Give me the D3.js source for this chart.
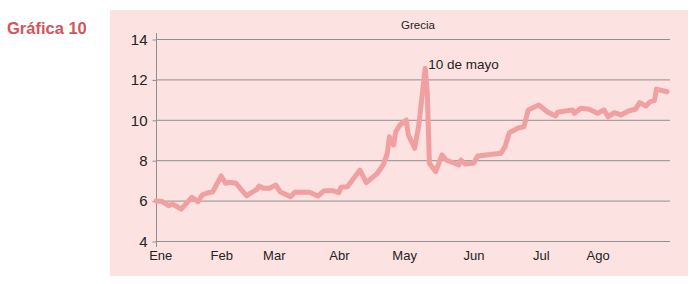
<!DOCTYPE html>
<html>
<head>
<meta charset="utf-8">
<script src="https://cdn.jsdelivr.net/npm/d3@7"></script>
<style>
  html, body { margin: 0; padding: 0; background: #ffffff; }
  svg { display: block; font-family: "Liberation Sans", Arial, Helvetica, sans-serif; }
</style>
</head>
<body>
<svg id="chart" width="693" height="284"></svg>
<script>
// ---- Data (Greek spread, 2010) ----
const dates = [
  "2010-01-01","2010-01-04","2010-01-07","2010-01-09","2010-01-13","2010-01-18","2010-01-21","2010-01-23",
  "2010-01-26","2010-01-28","2010-02-01","2010-02-03","2010-02-05","2010-02-08","2010-02-13","2010-02-18",
  "2010-02-19","2010-02-21","2010-02-24","2010-02-27","2010-03-01","2010-03-06","2010-03-08","2010-03-15",
  "2010-03-19","2010-03-22","2010-03-26","2010-03-29","2010-03-30","2010-04-02","2010-04-08","2010-04-11",
  "2010-04-16","2010-04-19","2010-04-21","2010-04-22","2010-04-24","2010-04-25","2010-04-27","2010-04-30",
  "2010-05-01","2010-05-04","2010-05-06","2010-05-09","2010-05-10","2010-05-11","2010-05-14","2010-05-17",
  "2010-05-19","2010-05-23","2010-05-25","2010-05-26","2010-05-28","2010-06-01","2010-06-03","2010-06-14",
  "2010-06-16","2010-06-18","2010-06-22","2010-06-25","2010-06-27","2010-07-02","2010-07-06","2010-07-10",
  "2010-07-11","2010-07-18","2010-07-19","2010-07-22","2010-07-26","2010-07-30","2010-08-02","2010-08-04",
  "2010-08-07","2010-08-10","2010-08-14","2010-08-17","2010-08-19","2010-08-22","2010-08-24","2010-08-26",
  "2010-08-27","2010-09-01"
];
const values = [
  5.98,5.95,5.75,5.82,5.58,6.16,5.95,6.28,
  6.39,6.44,7.22,6.86,6.91,6.86,6.24,6.56,
  6.72,6.61,6.61,6.77,6.44,6.19,6.41,6.41,
  6.23,6.49,6.49,6.39,6.66,6.69,7.51,6.89,
  7.32,7.76,8.34,9.16,8.75,9.41,9.74,9.99,
  9.25,8.59,9.74,12.55,11.39,7.85,7.43,8.26,
  8.01,7.85,7.76,8.01,7.81,7.85,8.21,8.34,
  8.67,9.36,9.58,9.66,10.49,10.73,10.40,10.19,
  10.37,10.49,10.32,10.57,10.52,10.32,10.49,10.15,
  10.35,10.24,10.45,10.52,10.85,10.68,10.90,10.95,
  11.52,11.39
];
const monthLabels = ["Ene","Feb","Mar","Abr","May","Jun","Jul","Ago"];
const monthDates = ["2010-01-03","2010-02-01","2010-02-26","2010-03-29","2010-04-29","2010-06-01","2010-07-03","2010-07-30"];
const yTicks = [4, 6, 8, 10, 12, 14];
const xDomain = ["2010-01-01", "2010-09-01"];
const seriesName = "Grecia";
const chartTitle = "Gráfica 10";
const annotation = { date: "2010-05-09", value: 12.55, text: "10 de mayo" };

// ---- Rendering ----
const parse = d3.utcParse("%Y-%m-%d");
const svg = d3.select("#chart");

svg.append("rect")
  .attr("x", 110).attr("y", 10).attr("width", 578).attr("height", 266)
  .attr("fill", "#fde2e2");

svg.append("text")
  .attr("x", 7).attr("y", 34)
  .attr("font-size", 16.5).attr("font-weight", "bold")
  .attr("fill", "#d4545c")
  .text(chartTitle);

const x = d3.scaleUtc().domain(xDomain.map(parse)).range([156, 667]);
const y = d3.scaleLinear().domain([4, 14]).range([241, 39]);

// gridlines
svg.append("g")
  .selectAll("line")
  .data(yTicks)
  .join("line")
  .attr("x1", 156).attr("x2", 670)
  .attr("y1", d => y(d) + 0.5).attr("y2", d => y(d) + 0.5)
  .attr("stroke", "#8f8f8f").attr("stroke-width", 1);

// y axis
const yAxis = d3.axisLeft(y).tickValues(yTicks).tickSize(4).tickPadding(5).tickFormat(d3.format("d"));
const gy = svg.append("g").attr("transform", "translate(156.5,0.5)").call(yAxis);
gy.select(".domain").remove();
gy.selectAll(".tick line").attr("stroke", "#8f8f8f");
gy.selectAll(".tick text").attr("font-size", 15).attr("fill", "#222").attr("font-family", null);
svg.append("line")
  .attr("x1", 156.5).attr("x2", 156.5).attr("y1", y(14) - 6).attr("y2", y(4) + 6)
  .attr("stroke", "#8f8f8f").attr("stroke-width", 1);

// x axis labels
const xAxis = d3.axisBottom(x).tickValues(monthDates.map(parse)).tickSize(0).tickPadding(0)
  .tickFormat((d, i) => monthLabels[i]);
const gx = svg.append("g").attr("transform", "translate(0,248)").call(xAxis);
gx.select(".domain").remove();
gx.selectAll(".tick text").attr("font-size", 13).attr("fill", "#222").attr("font-family", null).attr("dy", "0.95em");

// series title
svg.append("text")
  .attr("x", 418).attr("y", 29)
  .attr("text-anchor", "middle")
  .attr("font-size", 11.5).attr("fill", "#222")
  .text(seriesName);

// line
const data = dates.map((d, i) => ({ date: parse(d), value: values[i] }));
svg.append("path")
  .datum(data)
  .attr("fill", "none")
  .attr("stroke", "#f0a0a0")
  .attr("stroke-width", 5)
  .attr("stroke-linejoin", "round")
  .attr("stroke-linecap", "round")
  .attr("d", d3.line().x(d => x(d.date)).y(d => y(d.value)));

// annotation
svg.append("text")
  .attr("x", x(parse(annotation.date)) + 3)
  .attr("y", y(annotation.value) + 1)
  .attr("font-size", 13.5).attr("fill", "#222")
  .text(annotation.text);
</script>
</body>
</html>
